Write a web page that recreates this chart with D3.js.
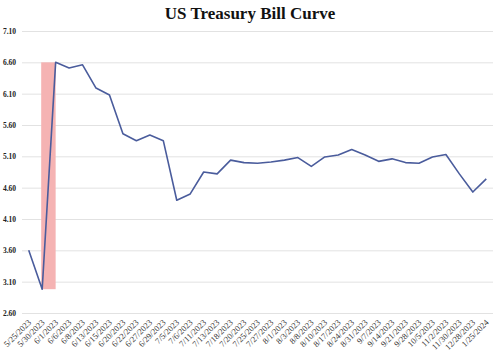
<!DOCTYPE html>
<html>
<head>
<meta charset="utf-8">
<script src="https://cdn.jsdelivr.net/npm/d3@7"></script>
<style>
    body { margin: 0; background: #fff; }
    #chart { width: 500px; height: 352px; }
    .tick-label { font-family: "Liberation Serif", "DejaVu Serif", serif; font-weight: bold; fill: #222; }
    .date-label { font-family: "Liberation Serif", "DejaVu Serif", serif; fill: #333; }
</style>
</head>
<body>
<div id="chart"></div>
<script>
// chart data
let dates = ["5/25/2023","5/30/2023","6/1/2023","6/6/2023","6/8/2023","6/13/2023","6/15/2023","6/20/2023",
    "6/22/2023","6/27/2023","6/29/2023","7/5/2023","7/6/2023","7/11/2023","7/13/2023","7/18/2023","7/20/2023",
    "7/25/2023","7/27/2023","8/1/2023","8/3/2023","8/8/2023","8/10/2023","8/17/2023","8/24/2023","8/31/2023",
    "9/7/2023","9/14/2023","9/21/2023","9/28/2023","10/5/2023","11/2/2023","11/30/2023","12/28/2023","1/25/2024"];

let yields = [3.60, 2.98, 6.60, 6.51, 6.56, 6.19, 6.08, 5.46, 5.35, 5.44, 5.35, 4.40, 4.50, 4.85, 4.82, 5.04,
    5.00, 4.99, 5.01, 5.04, 5.08, 4.94, 5.09, 5.12, 5.21, 5.12, 5.02, 5.06, 5.00, 4.99, 5.09, 5.13, 4.82, 4.53, 4.74];

let yTicks = [2.60, 3.10, 3.60, 4.10, 4.60, 5.10, 5.60, 6.10, 6.60, 7.10];

// shaded spike
let bandDates = ["5/30/2023", "6/1/2023"];

let margin = {top: 31, right: 7, bottom: 39, left: 22};
let width = 500 - margin.left - margin.right;
let height = 352 - margin.top - margin.bottom;

let svg = d3.select("#chart").append("svg")
    .attr("width", 500)
    .attr("height", 352);

svg.append("text")
    .attr("x", 250)
    .attr("y", 19)
    .attr("text-anchor", "middle")
    .style("font-family", "'Liberation Serif', serif")
    .style("font-weight", "bold")
    .style("font-size", "17px")
    .style("fill", "#111")
    .text("US Treasury Bill Curve");

let g = svg.append("g")
    .attr("transform", `translate(${margin.left}, ${margin.top})`);

let x = d3.scaleBand()
    .domain(dates)
    .range([0, width]);

let y = d3.scaleLinear()
    .domain([2.60, 7.10])
    .range([height, 0]);

// gridlines + labels
let yAxis = g.append("g")
    .call(d3.axisLeft(y).tickValues(yTicks).tickFormat(d3.format(".2f")).tickSize(-width).tickPadding(6));
yAxis.select(".domain").remove();
yAxis.selectAll(".tick line").attr("stroke", "#e2e2e2").attr("stroke-width", 1);
yAxis.selectAll(".tick text")
    .attr("class", "tick-label")
    .style("font-size", "7.5px");

// pink highlight
let bandVals = bandDates.map(d => yields[dates.indexOf(d)]);
g.append("rect")
    .attr("x", x(bandDates[0]) + x.bandwidth() / 2 - 1)
    .attr("y", y(d3.max(bandVals)))
    .attr("width", x(bandDates[1]) - x(bandDates[0]) + 1)
    .attr("height", y(d3.min(bandVals)) - y(d3.max(bandVals)))
    .attr("fill", "#f5b3b3");

let line = d3.line()
    .x((d, i) => x(dates[i]) + x.bandwidth() / 2)
    .y(d => y(d));

g.append("path")
    .datum(yields)
    .attr("fill", "none")
    .attr("stroke", "#4a5c9c")
    .attr("stroke-width", 1.6)
    .attr("stroke-linejoin", "round")
    .attr("d", line);

// x labels
let xAxis = g.append("g")
    .attr("transform", `translate(0, ${height})`)
    .call(d3.axisBottom(x).tickSize(0).tickPadding(0));
xAxis.select(".domain").remove();
xAxis.selectAll(".tick text")
    .attr("class", "date-label")
    .style("font-size", "8.5px")
    .attr("text-anchor", "end")
    .attr("dy", 0)
    .attr("transform", "translate(3, 10) rotate(-45)");
</script>
</body>
</html>
